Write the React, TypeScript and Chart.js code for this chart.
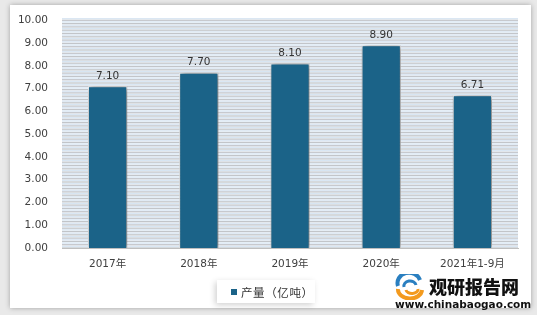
import React, { useEffect, useRef } from "react";
import { Chart, registerables } from "chart.js";

Chart.register(...registerables);

const categories = ["2017年", "2018年", "2019年", "2020年", "2021年1-9月"];
const production = [7.1, 7.7, 8.1, 8.9, 6.71];
const seriesName = "产量（亿吨）";
const yTicks = [0, 1, 2, 3, 4, 5, 6, 7, 8, 9, 10];

const FONT = "'DejaVu Sans', 'Noto Sans CJK SC', sans-serif";

const stripePlugin = {
  id: "stripes",
  beforeDraw(chart: any) {
    const { ctx, chartArea } = chart;
    const { left, right, top, bottom } = chartArea;
    ctx.save();
    ctx.fillStyle = "#f2f6fa";
    ctx.fillRect(left, top - 2, right - left, bottom - top + 2);
    const step = 3.3;
    for (let y = bottom; y >= top - 2; y -= step) {
      ctx.fillStyle = "#c2c5c9";
      ctx.fillRect(left, y - 0.6, right - left, 1.2);
      ctx.fillStyle = "#d6e4f2";
      ctx.fillRect(left, y - step / 2 - 0.5, right - left, 1);
    }
    ctx.restore();
  },
};

const shadowPlugin = {
  id: "barShadow",
  beforeDatasetsDraw(chart: any) {
    const ctx = chart.ctx;
    ctx.save();
    ctx.shadowColor = "rgba(0,0,0,0.6)";
    ctx.shadowBlur = 6;
    ctx.shadowOffsetX = 1.5;
    ctx.shadowOffsetY = 0.5;
  },
  afterDatasetsDraw(chart: any) {
    chart.ctx.restore();
  },
};

const labelPlugin = {
  id: "valueLabels",
  afterDatasetsDraw(chart: any) {
    const ctx = chart.ctx;
    const meta = chart.getDatasetMeta(0);
    ctx.save();
    ctx.font = `10.5px ${FONT}`;
    ctx.fillStyle = "#333333";
    ctx.textAlign = "center";
    ctx.textBaseline = "bottom";
    meta.data.forEach((el: any, i: number) => {
      const v = chart.data.datasets[0].data[i] as number;
      ctx.fillText(v.toFixed(2), el.x, el.y - 5);
    });
    ctx.restore();
  },
};

export default function App() {
  const ref = useRef<HTMLCanvasElement | null>(null);

  useEffect(() => {
    if (!ref.current) return;
    const chart = new Chart(ref.current, {
      type: "bar",
      data: {
        labels: categories,
        datasets: [
          {
            label: seriesName,
            data: production,
            backgroundColor: "#1b6388",
            borderColor: "#ffffff",
            borderWidth: 1,
            categoryPercentage: 1,
            barPercentage: 0.43,
          },
        ],
      },
      options: {
        animation: false,
        responsive: false,
        maintainAspectRatio: false,
        layout: { padding: { left: 0, right: 19, top: 19, bottom: 37 } },
        plugins: {
          legend: { display: false },
          tooltip: { enabled: false },
        },
        scales: {
          x: {
            grid: { display: false, drawTicks: false },
            border: { display: true, color: "#bfbfbf", width: 1 },
            ticks: {
              color: "#404040",
              font: { family: FONT, size: 10.5 },
              padding: 10,
              maxRotation: 0,
              autoSkip: false,
            },
            afterFit(scale: any) {
              scale.height = 30;
            },
          },
          y: {
            min: 0,
            max: 10,
            afterBuildTicks(scale: any) {
              scale.ticks = yTicks.map((v) => ({ value: v }));
            },
            grid: { display: false, drawTicks: false },
            border: { display: false },
            ticks: {
              color: "#404040",
              font: { family: FONT, size: 10.5 },
              padding: 14,
              callback: (v: any) => Number(v).toFixed(2),
            },
            afterFit(scale: any) {
              scale.width = 62;
            },
          },
        },
      },
      plugins: [stripePlugin, shadowPlugin, labelPlugin],
    });
    return () => chart.destroy();
  }, []);

  return (
    <div
      style={{
        position: "absolute",
        left: 0,
        top: 0,
        width: 537,
        height: 315,
        background: "#e9e9e9",
        overflow: "hidden",
        fontFamily: FONT,
      }}
    >
      <div
        style={{
          position: "absolute",
          left: 10,
          top: 5,
          width: 521,
          height: 303,
          background: "#ffffff",
          boxShadow: "0 0 5px rgba(0,0,0,0.3)",
        }}
      />
      <canvas
        ref={ref}
        width={537}
        height={315}
        style={{ position: "absolute", left: 0, top: 0, width: 537, height: 315 }}
      />
      <div
        style={{
          position: "absolute",
          left: 217,
          top: 280,
          width: 98,
          height: 23,
          background: "#ffffff",
          boxShadow: "-2px 2px 6px rgba(0,0,0,0.18)",
          display: "flex",
          alignItems: "center",
          fontSize: 11.5,
          letterSpacing: 0.6,
          color: "#333333",
          fontFamily: "'Noto Sans CJK SC', sans-serif",
        }}
      >
        <span
          style={{
            display: "inline-block",
            width: 6,
            height: 6,
            background: "#1b6388",
            marginLeft: 14,
            marginRight: 4,
          }}
        />
        <span>{seriesName}</span>
      </div>
      <svg
        width={32}
        height={26}
        viewBox="0 0 32 26"
        style={{ position: "absolute", left: 394, top: 274 }}
      >
        <path d="M4 12 A10 9 0 0 1 26 6" stroke="#2a7fc0" strokeWidth={4} fill="none" />
        <path d="M10 13 A6 5 0 0 1 22 11" stroke="#2a7fc0" strokeWidth={3} fill="none" />
        <path d="M4 15 A12 9 0 0 0 28 16" stroke="#f39a1e" strokeWidth={4} fill="none" />
        <path d="M12 16 A6 4 0 0 0 24 15" stroke="#f39a1e" strokeWidth={3} fill="none" />
      </svg>
      <div
        style={{
          position: "absolute",
          left: 429,
          top: 275,
          fontSize: 18,
          fontWeight: 900,
          color: "#111111",
          fontFamily: "'Noto Sans CJK SC', sans-serif",
          lineHeight: "22px",
          whiteSpace: "nowrap",
        }}
      >
        观研报告网
      </div>
      <div
        style={{
          position: "absolute",
          left: 395,
          top: 298,
          fontSize: 10.5,
          fontWeight: 700,
          color: "#111111",
          fontFamily: "'DejaVu Sans', sans-serif",
          lineHeight: "12px",
          whiteSpace: "nowrap",
        }}
      >
        www.chinabaogao.com
      </div>
    </div>
  );
}
